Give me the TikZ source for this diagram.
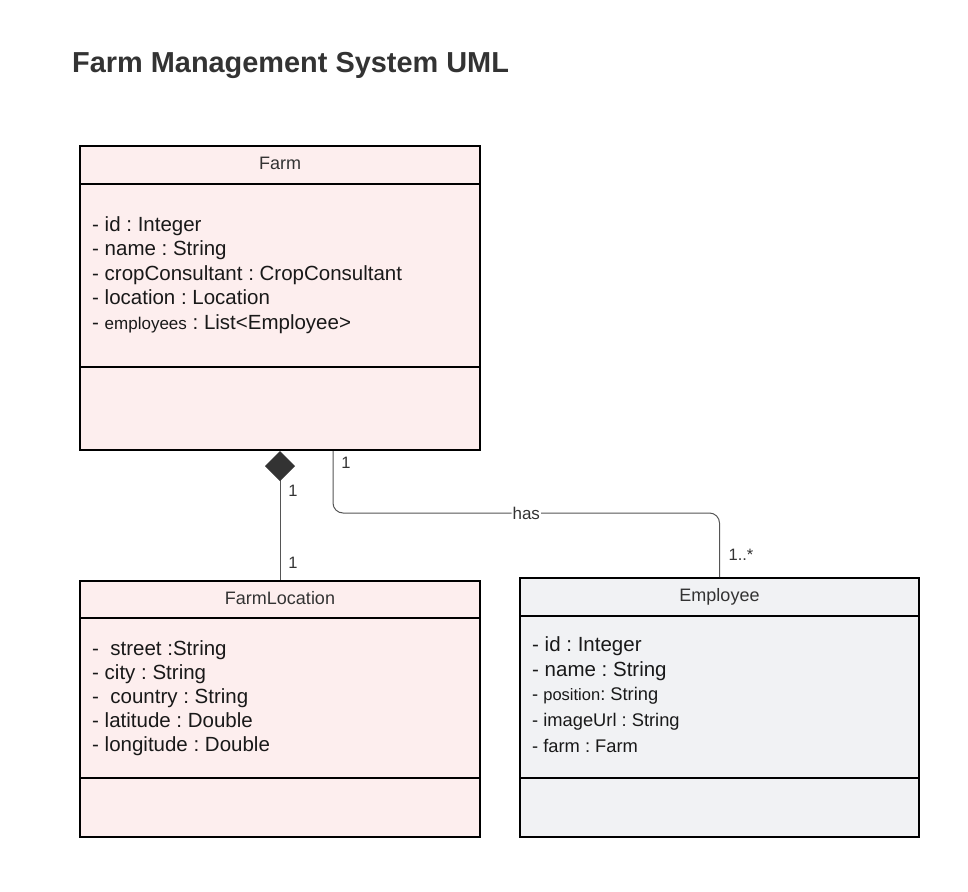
\documentclass[tikz,border=0pt]{standalone}
\usepackage{fontspec}
\setmainfont{Liberation Sans}
\usepackage{tikz}
\usetikzlibrary{arrows.meta, positioning, calc}
\definecolor{farmpink}{HTML}{FDEEEE}
\definecolor{empgray}{HTML}{F1F2F4}
\definecolor{textgray}{HTML}{333333}
\definecolor{linegray}{HTML}{555555}
\frenchspacing

\tikzset{
  classbox/.style={draw=black, line width=2pt, inner sep=0pt},
  hdr/.style={anchor=base, font=\fontsize{18}{22}\selectfont, text=textgray, inner sep=0pt},
  attr/.style={anchor=base west, font=\fontsize{20.5}{24}\selectfont, text=black!90, inner sep=0pt},
  attrsm/.style={attr, font=\fontsize{18.3}{22}\selectfont},
  mult/.style={font=\fontsize{16.5}{19}\selectfont, text=textgray, inner sep=0pt},
  assoc/.style={draw=linegray, line width=1pt},
}

\begin{document}
\begin{tikzpicture}[x=1pt, y=-1pt]

            % Rahmen
            \useasboundingbox (0,0) rectangle (968,891);

            % Titel
            \node[anchor=base west, inner sep=0pt, text=textgray, font=\bfseries\fontsize{28.9}{32}\selectfont] (title) at (72,72) {Farm Management System UML};

            % Klasse Farm
            \node[classbox, fill=farmpink, minimum width=400pt, minimum height=304pt] (farm) at (280,298) {};
            \draw[line width=2pt] (80,184) -- (480,184);
            \draw[line width=2pt] (80,367) -- (480,367);
            \node[hdr] (farm-hdr) at (280,169) {Farm};
            \node[attr] (farm-a1) at (92,231) {- id : Integer};
            \node[attr] (farm-a2) at (92,255.5) {- name : String};
            \node[attr] (farm-a3) at (92,280) {- cropConsultant : CropConsultant};
            \node[attr] (farm-a4) at (92,304.5) {- location : Location};
            \node[attr] (farm-a5) at (92,329) {- {\fontsize{17}{20}\selectfont employees} : List<Employee>};

            % Klasse FarmLocation
            \node[classbox, fill=farmpink, minimum width=400pt, minimum height=256pt] (floc) at (280,709) {};
            \draw[line width=2pt] (80,618) -- (480,618);
            \draw[line width=2pt] (80,778) -- (480,778);
            \node[hdr] (floc-hdr) at (280,604) {FarmLocation};
            \node[attr] (floc-a1) at (92,655) {-\ \ street :String};
            \node[attr] (floc-a2) at (92,679.2) {- city : String};
            \node[attr] (floc-a3) at (92,703.4) {-\ \ country : String};
            \node[attr] (floc-a4) at (92,727.6) {- latitude : Double};
            \node[attr] (floc-a5) at (92,751.8) {- longitude : Double};

            % Klasse Employee
            \node[classbox, fill=empgray, minimum width=399pt, minimum height=259pt] (emp) at (719.5,707.5) {};
            \draw[line width=2pt] (520,616) -- (919,616);
            \draw[line width=2pt] (520,778) -- (919,778);
            \node[hdr] (emp-hdr) at (719.5,601) {Employee};
            \node[attr] (emp-a1) at (532,651.5) {- id : Integer};
            \node[attr] (emp-a2) at (532,676) {- name : String};
            \node[attrsm] (emp-a3) at (532,700) {- {\fontsize{16.5}{19}\selectfont position}: String};
            \node[attrsm] (emp-a4) at (532,726) {- imageUrl : String};
            \node[attrsm] (emp-a5) at (532,752) {- farm : Farm};

            % Komposition Farm -- FarmLocation
            \draw[assoc, {Diamond[length=30pt, width=30pt, fill=textgray, color=textgray]}-] (farm.south) -- (floc.north);
            \node[mult] (m-comp1) at (293,491) {1};
            \node[mult] (m-comp2) at (293,563) {1};

            % Assoziation Farm -- Employee
            \draw[assoc, rounded corners=10pt] ([xshift=53pt]farm.south) -- ++(0,62) -| (emp.north)
                node[pos=0.25, fill=white, inner sep=1pt, text=textgray, font=\fontsize{17}{20}\selectfont] (has) {has};
            \node[mult] (m-has1) at (346,463) {1};
            \node[mult] (m-has2) at (741,555) {1..*};

\end{tikzpicture}
\end{document}
